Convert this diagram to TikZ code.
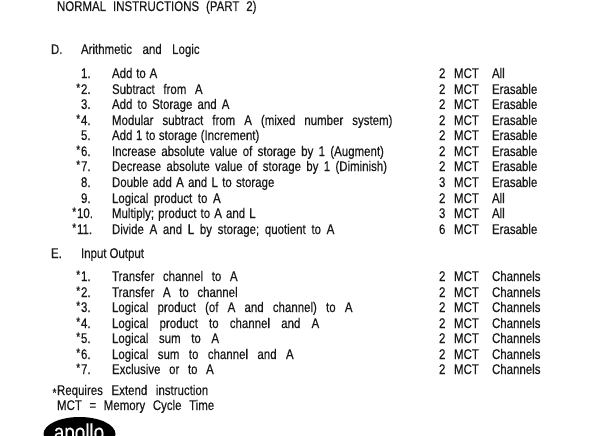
\documentclass[tikz,border=0pt]{standalone}
\usepackage{fontspec}
\setmainfont[FakeStretch=0.82,WordSpace=2.7,FakeBold=0.25]{Liberation Sans}
\tikzset{
  txt/.style={anchor=base west,inner sep=0pt,outer sep=0pt,font=\fontsize{14}{15}\selectfont,text=black!90},
  star/.style={anchor=base east,inner sep=0pt,outer sep=0pt,font=\fontsize{12.5}{13}\selectfont,text=black!85}
}
\newcommand{\sk}[1]{\spaceskip=#1pt\relax}
\newcommand{\rowline}[8]{% id, y, star, num, desc, mct, mem, numx
  \node[txt] (n#1) at (#8,#2) {#4};
  \node[txt] (d#1) at (112,#2) {#5};
  \node[txt] (m#1) at (439,#2) {#6 MCT};
  \node[txt] (a#1) at (492,#2) {#7};
  \if#3y\node[star] (s#1) at ([xshift=-0.8pt,yshift=2pt]n#1.base west) {*};\fi
}
\begin{document}
\begin{tikzpicture}[x=1pt,y=-1pt]
\useasboundingbox (0,0) rectangle (600,436);
\fill[white] (0,0) rectangle (600,436);
\node[txt] (title) at (57,11) {\sk{6.9}NORMAL INSTRUCTIONS (PART 2)};
\node[txt] (D) at (51,54) {D.};
\node[txt] (Dt) at (81,54) {\sk{10.5}Arithmetic and Logic};
\rowline{d1}{78}{n}{1.}{\sk{3.8}Add to A}{2}{All}{81}
\rowline{d2}{94}{y}{2.}{Subtract from A}{2}{Erasable}{81}
\rowline{d3}{109}{n}{3.}{\sk{5.1}Add to Storage and A}{2}{Erasable}{81}
\rowline{d4}{125}{y}{4.}{\sk{9}Modular subtract from A (mixed number system)}{2}{Erasable}{81}
\rowline{d5}{140}{n}{5.}{\sk{3.5}Add 1 to storage (Increment)}{2}{Erasable}{81}
\rowline{d6}{156}{y}{6.}{\sk{5.3}Increase absolute value of storage by 1 (Augment)}{2}{Erasable}{81}
\rowline{d7}{171}{y}{7.}{\sk{5.3}Decrease absolute value of storage by 1 (Diminish)}{2}{Erasable}{81}
\rowline{d8}{187}{n}{8.}{\sk{4.3}Double add A and L to storage}{3}{Erasable}{81}
\rowline{d9}{203}{n}{9.}{\sk{5.6}Logical product to A}{2}{All}{81}
\rowline{d10}{218}{y}{10.}{\sk{4.1}Multiply; product to A and L}{3}{All}{77}
\rowline{d11}{234}{y}{11.}{\sk{5.7}Divide A and L by storage; quotient to A}{6}{Erasable}{77}
\node[txt] (E) at (51,258) {E.};
\node[txt] (Et) at (81,258) {\sk{3}Input Output};
\rowline{e1}{281}{y}{1.}{Transfer channel to A}{2}{Channels}{81}
\rowline{e2}{297}{y}{2.}{Transfer A to channel}{2}{Channels}{81}
\rowline{e3}{312}{y}{3.}{\sk{9.2}Logical product (of A and channel) to A}{2}{Channels}{81}
\rowline{e4}{328}{y}{4.}{\sk{11.2}Logical product to channel and A}{2}{Channels}{81}
\rowline{e5}{343}{y}{5.}{\sk{10.6}Logical sum to A}{2}{Channels}{81}
\rowline{e6}{359}{y}{6.}{\sk{9.4}Logical sum to channel and A}{2}{Channels}{81}
\rowline{e7}{374}{y}{7.}{Exclusive or to A}{2}{Channels}{81}
\node[txt] (req) at (57,395) {Requires Extend instruction};
\node[star] (reqs) at (56.5,397) {*};
\node[txt] (mct) at (57,410) {\sk{7.6}MCT = Memory Cycle Time};
\begin{scope}
\clip (0,0) rectangle (600,436);
\fill[black] (79.5,434) ellipse [x radius=36,y radius=17];
\node[anchor=base,inner sep=0pt,text=white,font=\fontsize{23}{25}\selectfont] (logo) at (79,440) {apollo};
\end{scope}
\end{tikzpicture}
\end{document}
